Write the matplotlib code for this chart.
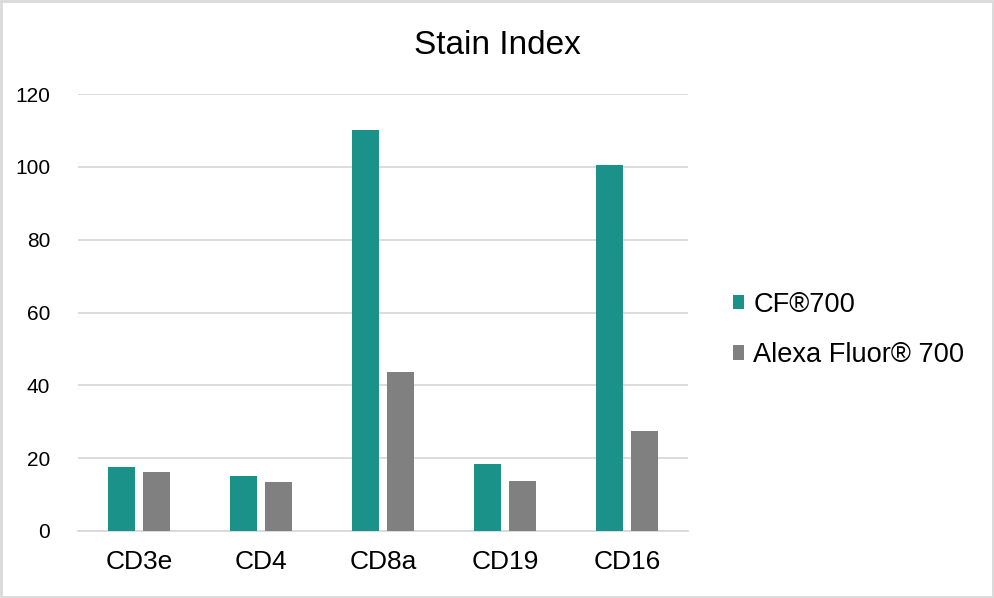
import matplotlib
matplotlib.use("Agg")
import matplotlib.pyplot as plt
import numpy as np
from matplotlib.patches import Rectangle

plt.rcParams['font.family'] = ['Liberation Sans', 'DejaVu Sans']

categories = ["CD3e", "CD4", "CD8a", "CD19", "CD16"]
cf700 = [17.7, 15.2, 110.0, 18.4, 100.6]
alexa700 = [16.1, 13.5, 43.6, 13.6, 27.4]
series_names = ["CF®700", "Alexa Fluor® 700"]
yticks = [0, 20, 40, 60, 80, 100, 120]

teal = "#1a9189"
gray = "#808080"

fig = plt.figure(figsize=(9.94, 5.98), dpi=100)
ax = fig.add_axes([78/994, 1-531/598, (688-78)/994, (531-94)/598])

x = np.arange(len(categories))
w = 0.217
off = 0.143
ax.bar(x - off, cf700, width=w, color=teal, label=series_names[0], zorder=3)
ax.bar(x + off, alexa700, width=w, color=gray, label=series_names[1], zorder=3)

ax.set_xlim(-0.5, len(categories) - 0.5)
ax.set_ylim(0, 120)
ax.set_yticks(yticks)
ax.set_yticklabels([str(t) for t in yticks], fontsize=15)
ax.set_xticks(x)
ax.set_xticklabels(categories, fontsize=19)
ax.tick_params(axis='both', length=0, colors='black')
ax.tick_params(axis='y', pad=20)
ax.tick_params(axis='x', pad=14)
ax.grid(axis='y', color='#d9d9d9', linewidth=1.3, zorder=0)
for s in ['top', 'right', 'left']:
    ax.spines[s].set_visible(False)
ax.spines['bottom'].set_color('#d9d9d9')
ax.spines['bottom'].set_linewidth(1.3)

fig.text(497/994, 1-45/598, "Stain Index", ha='center', va='center', fontsize=24)

leg = fig.legend(loc='center left', bbox_to_anchor=(708/994, 1-330/598),
                 frameon=False, fontsize=19.6, handlelength=0.44, handleheight=0.44,
                 handletextpad=0.32, labelspacing=0.9)

fig.patches.append(Rectangle((0.001, 0.001), 0.998, 0.997, transform=fig.transFigure,
                             fill=False, edgecolor='#d9d9d9', linewidth=2))

fig.savefig("out.png", dpi=100)
